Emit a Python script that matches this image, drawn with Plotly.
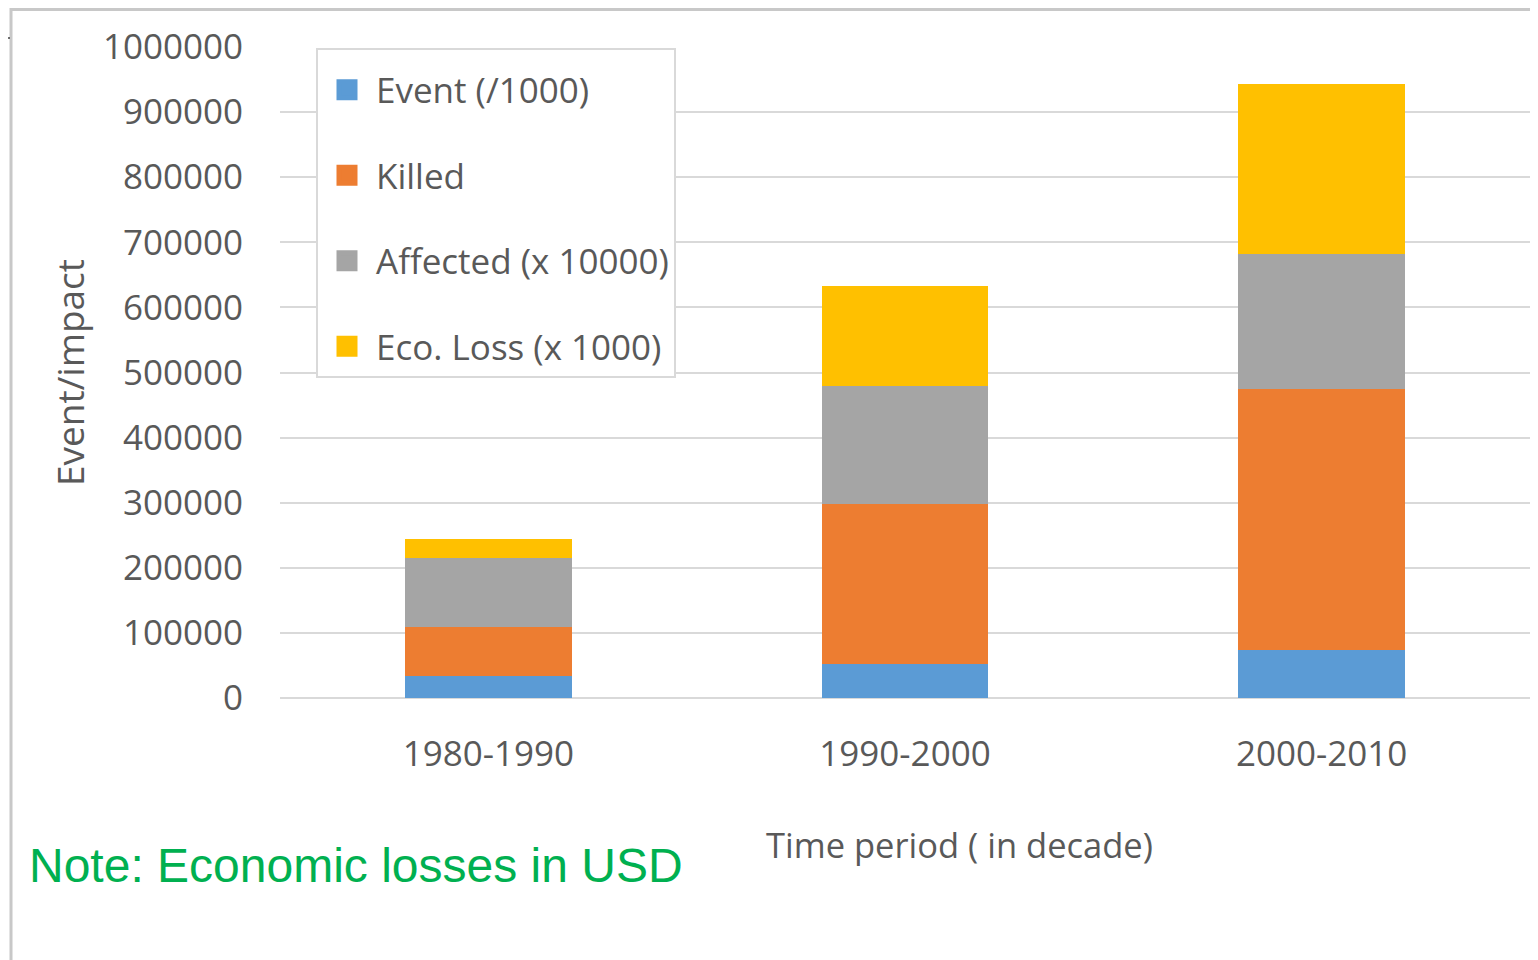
import plotly.graph_objects as go

periods = ["1980-1990", "1990-2000", "2000-2010"]
event = [34000, 52000, 73000]
killed = [75500, 246000, 401000]
affected = [105000, 181000, 208500]
eco_loss = [29000, 154500, 260000]

series_names = ["Event (/1000)", "Killed", "Affected (x 10000)", "Eco. Loss (x 1000)"]
series_values = [event, killed, affected, eco_loss]
series_colors = ["#5b9bd5", "#ed7d31", "#a5a5a5", "#ffc000"]

y_ticks = [0, 100000, 200000, 300000, 400000, 500000, 600000, 700000, 800000, 900000, 1000000]

FONT = "Open Sans"
TXT = "#595959"

fig = go.Figure()
for name, vals, col in zip(series_names, series_values, series_colors):
    fig.add_trace(go.Bar(
        x=periods, y=vals, name=name, legendgroup=name, showlegend=False,
        marker=dict(color=col, line=dict(width=0)),
        width=0.4,
    ))
# legend entries with larger square keys (same groups as the bars)
for name, col in zip(series_names, series_colors):
    fig.add_trace(go.Scatter(
        x=[None], y=[None], mode="markers", name=name, legendgroup=name,
        marker=dict(symbol="square", size=16, color=col, line=dict(color=col, width=5)),
        hoverinfo="skip",
    ))

# page offset (body margin) and plot-area geometry in figure px
OFF = 8
W, H = 1530, 952
L, R, T, B = 272, 8, 39, 262
pw, ph = W - L - R, H - T - B

def px_x(p):  # screen px -> paper
    return (p - OFF - L) / pw

def px_y(p):
    return (H - B - (p - OFF)) / ph

fig.update_layout(
    width=W, height=H,
    margin=dict(l=L, r=R, t=T, b=B, pad=0),
    barmode="stack",
    paper_bgcolor="white", plot_bgcolor="white",
    font=dict(family=FONT, color=TXT, size=32),
    showlegend=True,
    legend=dict(
        x=px_x(316), y=px_y(48), xanchor="left", yanchor="top",
        bgcolor="white", bordercolor="#d9d9d9", borderwidth=2,
        font=dict(family=FONT, size=35, color=TXT),
        traceorder="grouped", tracegroupgap=37,
        itemwidth=48,
        title=dict(text=" ", font=dict(size=8)),
    ),
    xaxis=dict(
        range=[-0.5, 2.5], showgrid=False, showline=False, zeroline=False,
        ticks="", tickfont=dict(family=FONT, size=35, color=TXT),
        ticklabelstandoff=32,
    ),
    yaxis=dict(
        range=[0, 1000000], tickvals=y_ticks, ticktext=[str(v) for v in y_ticks],
        showgrid=True, gridcolor="#d9d9d9", gridwidth=1.5,
        zeroline=True, zerolinecolor="#d9d9d9", zerolinewidth=1.5,
        showline=False, ticks="",
        tickfont=dict(family=FONT, size=35, color=TXT),
        ticklabelstandoff=36,
        title=dict(text="Event/impact", font=dict(family=FONT, size=37, color=TXT), standoff=6),
    ),
    annotations=[
        dict(text="Time period ( in decade)", xref="paper", yref="paper",
             x=px_x(959), y=px_y(844), xanchor="center", yanchor="middle",
             showarrow=False, font=dict(family=FONT, size=34.5, color=TXT)),
        dict(text="Note: Economic losses in USD", xref="paper", yref="paper",
             x=px_x(27), y=px_y(865), xanchor="left", yanchor="middle",
             showarrow=False, font=dict(family="Liberation Sans", size=48, color="#00b050")),
    ],
    shapes=[
        dict(type="line", xref="paper", yref="paper",
             x0=px_x(10), x1=px_x(1545), y0=px_y(9.5), y1=px_y(9.5),
             line=dict(color="#c8c8c8", width=3)),
        dict(type="line", xref="paper", yref="paper",
             x0=px_x(11), x1=px_x(11), y0=px_y(8), y1=px_y(970),
             line=dict(color="#c8c8c8", width=3)),
        dict(type="line", xref="paper", yref="paper",
             x0=px_x(0), x1=px_x(10), y0=px_y(38), y1=px_y(38),
             line=dict(color="#404040", width=1.5)),
    ],
)

fig.write_html("out.html")
